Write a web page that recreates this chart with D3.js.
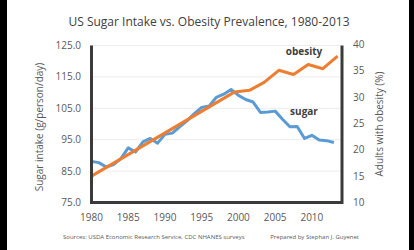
<!DOCTYPE html>
<html>
<head>
<meta charset="utf-8">
<script src="https://cdn.jsdelivr.net/npm/d3@7"></script>
<style>
  html, body { margin: 0; padding: 0; background: #000; }
  svg { display: block; font-family: "Open Sans", "Noto Sans", sans-serif; }
</style>
</head>
<body>
<svg id="chart"></svg>
<script>
// sugar intake, g/person/day (USDA ERS), one per year
let sugarYears = d3.range(1980, 2014);
let sugarValues = [
    88.1, 87.7, 86.3, 87.1, 89.0, 92.4, 91.1, 94.3, 95.4, 93.9,
    96.7, 97.1, 99.1, 101.0, 103.3, 105.3, 105.7, 108.5, 109.5, 111.0,
    109.1, 107.8, 107.0, 103.7, 103.8, 104.1, 101.5, 99.1, 99.2, 95.4,
    96.4, 94.9, 94.7, 94.1
];

// obesity prevalence, % adults (NHANES survey midpoints)
let obesityYears = [1980, 1999.5, 2001.5, 2003.5, 2005.5, 2007.5, 2009.5, 2011.5, 2013.5];
let obesityValues = [15.0, 31.0, 31.3, 32.8, 35.1, 34.3, 36.2, 35.4, 37.8];

let leftTicks = [75, 85, 95, 105, 115, 125];
let rightTicks = [10, 15, 20, 25, 30, 35, 40];
let yearTicks = [1980, 1985, 1990, 1995, 2000, 2005, 2010];

function drawChart() {
    let w = 414, h = 250;
    let svg = d3.select("#chart").attr("width", w).attr("height", h);

    // white page with black edges
    svg.append("rect").attr("x", 7).attr("y", 0).attr("width", 402).attr("height", h).attr("fill", "#fff");

    let x = d3.scaleLinear().domain([1980, 2014.1]).range([91.5, 342]);
    let yL = d3.scaleLinear().domain([75, 125]).range([202.5, 45.5]);
    let yR = d3.scaleLinear().domain([10, 40]).range([202.5, 44.5]);

    // gridlines
    svg.append("g")
        .selectAll("line")
        .data(leftTicks.slice(1))
        .enter().append("line")
          .attr("x1", x(1980)).attr("x2", x.range()[1])
          .attr("y1", d => yL(d)).attr("y2", d => yL(d))
          .attr("stroke", "#ececec").attr("stroke-width", 1);

    svg.append("text")
        .attr("x", 209).attr("y", 26)
        .attr("text-anchor", "middle")
        .attr("font-size", 12)
        .attr("fill", "#404040")
        .text("US Sugar Intake vs. Obesity Prevalence, 1980-2013");

    // left axis labels
    svg.append("g")
        .selectAll("text")
        .data(leftTicks)
        .enter().append("text")
          .attr("x", 81).attr("y", d => yL(d))
          .attr("dy", "0.35em")
          .attr("text-anchor", "end")
          .attr("font-size", 10)
          .attr("fill", "#595959")
          .text(d => d3.format(".1f")(d));

    svg.append("g")
        .selectAll("text")
        .data(rightTicks)
        .enter().append("text")
          .attr("x", 353).attr("y", d => yR(d))
          .attr("dy", "0.35em")
          .attr("font-size", 10)
          .attr("fill", "#595959")
          .text(d => d);

    svg.append("g")
        .selectAll("text")
        .data(yearTicks)
        .enter().append("text")
          .attr("x", d => x(d)).attr("y", 221)
          .attr("text-anchor", "middle")
          .attr("font-size", 10)
          .attr("fill", "#595959")
          .text(d => d);

    svg.append("text")
        .attr("transform", "translate(43,127) rotate(-90)")
        .attr("text-anchor", "middle")
        .attr("font-size", 10)
        .attr("fill", "#595959")
        .text("Sugar intake (g/person/day)");

    svg.append("text")
        .attr("transform", "translate(383,124) rotate(-90)")
        .attr("text-anchor", "middle")
        .attr("font-size", 10)
        .attr("fill", "#595959")
        .text("Adults with obesity (%)");

    // lines
    let sugarLine = d3.line().x((d, i) => x(sugarYears[i])).y(d => yL(d));
    let obesityLine = d3.line().x((d, i) => x(obesityYears[i])).y(d => yR(d));

    svg.append("path")
        .attr("d", sugarLine(sugarValues))
        .attr("fill", "none")
        .attr("stroke", "#5b9bd5")
        .attr("stroke-width", 3)
        .attr("stroke-linejoin", "round");

    svg.append("path")
        .attr("d", obesityLine(obesityValues))
        .attr("fill", "none")
        .attr("stroke", "#ed7d31")
        .attr("stroke-width", 3)
        .attr("stroke-linejoin", "round");

    // axis frame: left, bottom, right
    let x0 = x(1980), x1 = x.range()[1], yb = yL(75), yt = yL(125);
    svg.append("path")
        .attr("d", `M${x0},${yt}V${yb}H${x1}V${yt}`)
        .attr("fill", "none")
        .attr("stroke", "#3a3a3a")
        .attr("stroke-width", 3);

    svg.append("text")
        .attr("x", 304).attr("y", 55)
        .attr("text-anchor", "middle")
        .attr("font-size", 10).attr("font-weight", "bold")
        .attr("fill", "#404040")
        .text("obesity");

    svg.append("text")
        .attr("x", 304).attr("y", 115)
        .attr("text-anchor", "middle")
        .attr("font-size", 10).attr("font-weight", "bold")
        .attr("fill", "#404040")
        .text("sugar");

    svg.append("text")
        .attr("x", 63).attr("y", 239)
        .attr("font-size", 6)
        .attr("fill", "#595959")
        .text("Sources: USDA Economic Research Service, CDC NHANES surveys");

    svg.append("text")
        .attr("x", 359).attr("y", 239)
        .attr("text-anchor", "end")
        .attr("font-size", 6)
        .attr("fill", "#595959")
        .text("Prepared by Stephan J. Guyenet");
}

window.onload = function() {
    drawChart();
}
</script>
</body>
</html>
